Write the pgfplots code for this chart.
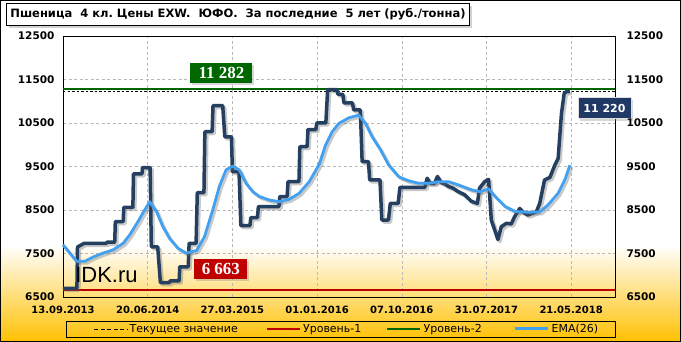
\documentclass[border=0pt]{standalone}
\usepackage{fontspec}
\setmainfont{DejaVu Sans}
\newfontfamily\lsans{Liberation Sans}
\newfontfamily\lserif{Liberation Serif}
\usepackage{pgfplots}
\pgfplotsset{compat=1.18}
\usetikzlibrary{shadows}
\definecolor{bgold}{HTML}{FFC000}
\definecolor{price}{HTML}{243F60}
\definecolor{ema}{HTML}{41A0F0}
\definecolor{lvgreen}{HTML}{006600}
\definecolor{lvred}{HTML}{C00000}
\definecolor{navyl}{HTML}{1F3864}
\begin{document}
\frenchspacing
\begin{tikzpicture}[x=1pt,y=1pt]
\useasboundingbox (0,0) rectangle (681,342);
\fill[white] (0,0) rectangle (681,342);
\shade[bottom color=bgold, top color=white] (0,0) rectangle (681,97);
\draw[line width=0.8pt] (0.4,0.4) rectangle (680.6,341.6);
\node[anchor=north west, draw=black, line width=0.8pt, fill=white,
      drop shadow={shadow xshift=2.5pt, shadow yshift=-2.5pt, opacity=0.35},
      minimum height=22pt, inner ysep=0pt, inner xsep=4pt]
  at (6,339) {\bfseries\fontsize{11.5}{13}\selectfont Пшеница\ \ 4 кл. Цены EXW.\ \ ЮФО.\ \ За последние\ \ 5 лет (руб./тонна)};

\begin{axis}[
 at={(63pt,45pt)}, anchor=south west, scale only axis, width=552pt, height=261pt,
 xmin=0, xmax=1825, ymin=6500, ymax=12500,
 xtick={0,280,560,840,1120,1400,1680},
 xticklabels={13.09.2013,20.06.2014,27.03.2015,01.01.2016,07.10.2016,31.07.2017,21.05.2018},
 ytick={6500,7500,...,12500},
 scaled y ticks=false,
 grid=major, major grid style={gray!55, line width=0.5pt, dash pattern=on 3pt off 2.5pt},
 major tick length=0pt,
 axis line style={line width=0.8pt},
 tick label style={text=black},
 yticklabel style={font=\bfseries\fontsize{10.5}{12}\selectfont, xshift=-5pt},
 xticklabel style={font=\bfseries\fontsize{10}{12}\selectfont, yshift=-6pt},
 /pgf/number format/assume math mode=true,
 /pgf/number format/1000 sep={},
 clip=false,
 legend columns=4,
 legend style={at={(1.0018,-0.1226)}, anchor=east, draw=black, line width=0.8pt, fill=none,
   font=\fontsize{11}{12}\selectfont, inner xsep=6pt, inner ysep=1pt,
   /tikz/every even column/.append style={column sep=0pt}},
 legend image code/.code={\draw[#1] (0pt,0pt) -- (33pt,0pt);},
]
\addlegendimage{black, line width=0.8pt,
  legend image code/.code={\path (0pt,0pt); \draw[black, line width=0.8pt, dash pattern=on 4pt off 2.5pt] (21pt,0pt) -- (54pt,0pt);}}
\addlegendentry{\makebox[134pt][l]{Текущее значение}}
\addlegendimage{lvred, line width=2.5pt}
\addlegendentry{\makebox[81pt][l]{Уровень-1}}
\addlegendimage{lvgreen, line width=2.5pt}
\addlegendentry{\makebox[88pt][l]{Уровень-2}}
\addlegendimage{ema, line width=3pt}
\addlegendentry{\makebox[56pt][l]{EMA(26)}}

% levels
\addplot[lvred, line width=2.7pt, forget plot] coordinates {(0,6663) (1825,6663)};
\addplot[lvgreen, line width=2.7pt, forget plot] coordinates {(0,11282) (1825,11282)};
\addplot[black, line width=0.8pt, dash pattern=on 2.5pt off 2pt, forget plot] coordinates {(0,11220) (1825,11220)};

\pgfplotstableread{
d v
0 6700
46 6700
48 7650
70 7735
144 7735
145 7760
171 7760
173 8235
199 8235
201 8560
231 8560
233 9330
261 9330
263 9475
288 9475
292 7655
313 7655
322 6830
352 6830
354 6870
384 6870
386 7195
414 7195
417 7735
440 7735
444 8900
466 8900
469 10300
493 10300
496 10900
528 10900
535 10180
557 10180
560 9380
582 9380
588 8140
618 8140
621 8325
643 8325
646 8580
714 8580
717 8810
741 8810
744 9150
780 9150
783 9955
807 9955
810 10350
836 10350
839 10500
869 10500
875 11270
905 11270
909 11160
925 11160
929 10960
957 10960
961 10800
983 10800
989 9610
1010 9610
1014 9190
1048 9190
1054 8270
1076 8270
1082 8650
1108 8650
1114 9020
1196 9020
1204 9230
1214 9115
1228 9110
1238 9270
1250 9130
1262 9100
1275 9040
1290 9000
1306 8925
1328 8850
1350 8700
1370 8650
1377 9000
1394 9150
1407 9205
1416 8270
1438 7820
1449 8115
1466 8195
1482 8180
1493 8345
1510 8535
1521 8450
1537 8385
1565 8460
1576 8650
1592 9190
1610 9250
1626 9530
1637 9685
1648 10720
1657 11180
1664 11220
1676 11220
}\pricetab
\pgfplotstableread{
d v
0 7700
45 7320
72 7320
100 7420
133 7510
166 7585
199 7735
221 7930
248 8235
270 8500
287 8690
309 8465
330 8120
352 7850
380 7620
407 7510
429 7545
442 7570
468 7890
495 8500
517 9040
539 9420
561 9510
583 9420
605 9115
627 8925
649 8810
682 8730
715 8690
748 8745
781 8885
814 9150
847 9550
868 9990
890 10300
912 10490
945 10620
978 10680
1000 10490
1022 10185
1050 9880
1077 9530
1110 9265
1143 9170
1176 9115
1209 9115
1242 9150
1275 9150
1308 9075
1352 8960
1379 8920
1407 8985
1429 8810
1462 8580
1495 8465
1538 8450
1577 8455
1604 8620
1637 8885
1659 9190
1676 9530
}\ematab
\addplot[black!60, opacity=0.35, line width=3.5pt, line join=round, xshift=2pt, yshift=-2pt, forget plot] table[x=d,y=v] {\pricetab};
\addplot[price, line width=3.5pt, line join=round, forget plot] table[x=d,y=v] {\pricetab};
\addplot[black!60, opacity=0.35, line width=2.8pt, line join=round, xshift=2pt, yshift=-2pt, forget plot] table[x=d,y=v] {\ematab};
\addplot[ema, line width=2.8pt, line join=round, forget plot] table[x=d,y=v] {\ematab};

% labels
\node[anchor=base west, inner sep=0pt, font=\lsans\fontsize{22}{22}\selectfont] at (axis cs:40,6828) {IDK.ru};
\node[fill=lvgreen, text=white, font=\lserif\bfseries\fontsize{17}{17}\selectfont,
      minimum width=62pt, minimum height=20pt, inner sep=1pt,
      drop shadow={shadow xshift=2pt, shadow yshift=-2pt, opacity=0.3}] at (axis cs:524,11644) {11 282};
\node[fill=lvred, text=white, font=\lserif\bfseries\fontsize{17}{17}\selectfont,
      minimum width=53pt, minimum height=20pt, inner sep=1pt,
      drop shadow={shadow xshift=2pt, shadow yshift=-2pt, opacity=0.3}] at (axis cs:522,7149) {6 663};
\node[fill=navyl, draw=white!75!gray, line width=0.6pt, text=white, font=\bfseries\fontsize{11}{11}\selectfont,
      minimum width=53pt, minimum height=21pt, inner sep=1pt,
      drop shadow={shadow xshift=2pt, shadow yshift=-2pt, opacity=0.3}] at (axis cs:1790,10842) {11 220};
\end{axis}

\begin{axis}[
 at={(63pt,45pt)}, anchor=south west, scale only axis, width=552pt, height=261pt,
 xmin=0, xmax=1825, ymin=6500, ymax=12500,
 hide x axis, axis y line*=right, axis line style={draw=none},
 ytick={6500,7500,...,12500},
 scaled y ticks=false,
 major tick length=0pt,
 tick label style={font=\bfseries\fontsize{10.5}{12}\selectfont, text=black},
 /pgf/number format/assume math mode=true,
 /pgf/number format/1000 sep={},
 yticklabel style={xshift=8pt},
]
\addplot[draw=none] coordinates {(0,6500)};
\end{axis}
\end{tikzpicture}
\end{document}
